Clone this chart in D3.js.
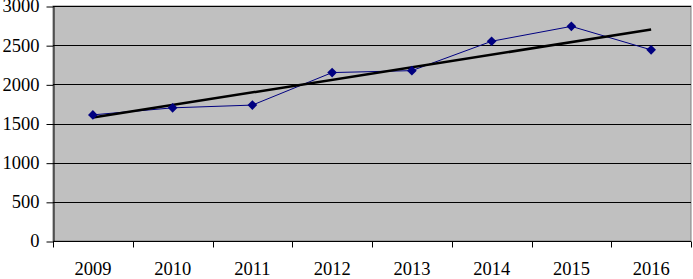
<!DOCTYPE html>
<html>
<head>
<meta charset="utf-8">
<script src="https://cdn.jsdelivr.net/npm/d3@7"></script>
<style>
    body { margin: 0; background: #fff; }
    svg { display: block; }
    .axis text { font-family: "Liberation Serif", "Times New Roman", serif; font-size: 18.5px; fill: #000; }
    .axis path, .axis line { stroke: #000; }
</style>
</head>
<body>
<svg id="chart" width="693" height="279"></svg>
<script>
    const years = ["2009", "2010", "2011", "2012", "2013", "2014", "2015", "2016"];
    const values = [1610, 1700, 1735, 2150, 2175, 2550, 2740, 2440];
    const yTicks = [0, 500, 1000, 1500, 2000, 2500, 3000];

    const margin = {top: 6, right: 2, bottom: 38, left: 53};
    const width = 693 - margin.left - margin.right;
    const height = 279 - margin.top - margin.bottom;

    const svg = d3.select("#chart");
    const chart = svg.append("g")
        .attr("transform", "translate(" + margin.left + "," + margin.top + ")");

    const xScale = d3.scaleBand().domain(years).range([0, width]);
    const yScale = d3.scaleLinear().domain([0, 3000]).range([height, 0]);
    const cx = d => xScale(d) + xScale.bandwidth() / 2;

    // plot area
    chart.append("rect")
        .attr("x", 0).attr("y", 0)
        .attr("width", width).attr("height", height)
        .attr("fill", "#c0c0c0")
        .attr("stroke", "#808080");

    // gridlines
    chart.selectAll("line.grid").data(yTicks.filter(d => d > 0))
        .enter().append("line")
            .attr("class", "grid")
            .attr("x1", 0).attr("x2", width)
            .attr("y1", d => Math.round(yScale(d)) + 0.5)
            .attr("y2", d => Math.round(yScale(d)) + 0.5)
            .attr("stroke", "#000");

    // axes
    const yAxis = chart.append("g").attr("class", "y axis")
        .attr("transform", "translate(0.5,0)")
        .call(d3.axisLeft(yScale).tickValues(yTicks).tickFormat(d3.format("d"))
            .tickSize(7).tickPadding(7).tickSizeOuter(0));
    yAxis.selectAll(".tick line").attr("transform", "translate(0,0.5)");

    const xAxis = chart.append("g").attr("class", "x axis")
        .attr("transform", "translate(0," + (height + 0.5) + ")")
        .call(d3.axisBottom(xScale).tickSize(0).tickPadding(20));
    xAxis.select(".domain").remove();
    xAxis.append("line").attr("x1", 0).attr("x2", width).attr("stroke", "#000");
    // boundary ticks between categories
    xAxis.selectAll("line.bound").data(years.map((d, i) => i).concat([years.length]))
        .enter().append("line")
            .attr("class", "bound")
            .attr("x1", i => Math.round(i * xScale.bandwidth()) + 0.5)
            .attr("x2", i => Math.round(i * xScale.bandwidth()) + 0.5)
            .attr("y1", 0).attr("y2", 6)
            .attr("stroke", "#000");

    // series line
    const line = d3.line().x((d, i) => cx(years[i])).y(d => yScale(d));
    chart.append("path")
        .datum(values)
        .attr("d", line)
        .attr("fill", "none")
        .attr("stroke", "#000080")
        .attr("stroke-width", 1);

    // linear trend
    const n = values.length;
    const mx = (n - 1) / 2;
    const my = d3.mean(values);
    const slope = d3.sum(values, (v, i) => (i - mx) * (v - my)) / d3.sum(values, (v, i) => (i - mx) * (i - mx));
    const trend = [0, n - 1].map(i => ({i: i, v: my + slope * (i - mx)}));
    chart.append("path")
        .datum(trend)
        .attr("d", d3.line().x(d => cx(years[d.i])).y(d => yScale(d.v)))
        .attr("fill", "none")
        .attr("stroke", "#000")
        .attr("stroke-width", 2.5);

    // diamond markers
    chart.selectAll("path.marker").data(values)
        .enter().append("path")
            .attr("class", "marker")
            .attr("d", d3.symbol().type(d3.symbolDiamond2).size(60))
            .attr("transform", (d, i) => "translate(" + cx(years[i]) + "," + yScale(d) + ")")
            .attr("fill", "#000080");
</script>
</body>
</html>
